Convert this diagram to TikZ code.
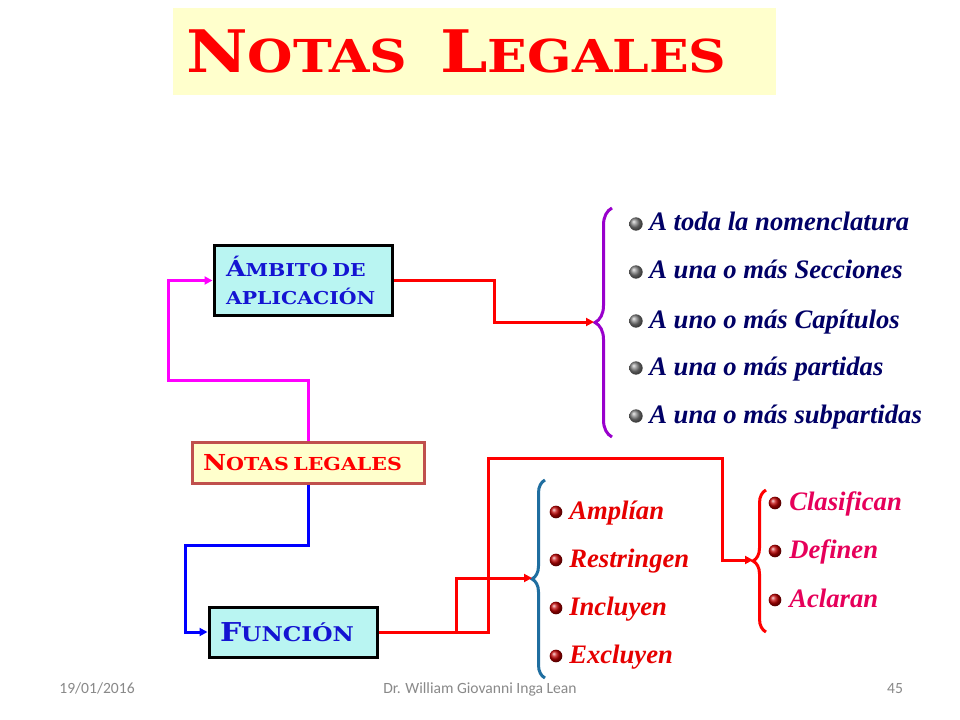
\documentclass[tikz,border=0pt]{standalone}
\usepackage{fontspec}
\setmainfont{Liberation Serif}
\newfontfamily\copperfont[FakeStretch=1.15]{DejaVu Serif}
\newfontfamily\footfont{Carlito}
\usetikzlibrary{positioning,arrows.meta,decorations.pathreplacing}

\definecolor{titlefill}{RGB}{255,255,204}
\definecolor{cyanfill}{RGB}{185,245,242}
\definecolor{boxblue}{RGB}{20,20,210}
\definecolor{notasborder}{RGB}{192,80,77}
\definecolor{wiremagenta}{RGB}{255,0,255}
\definecolor{wirered}{RGB}{255,0,0}
\definecolor{wireblue}{RGB}{0,0,255}
\definecolor{bracepurple}{RGB}{153,0,204}
\definecolor{braceteal}{RGB}{31,110,160}
\definecolor{navytext}{RGB}{0,0,102}
\definecolor{itemred}{RGB}{230,0,0}
\definecolor{itemcrimson}{RGB}{230,0,90}
\definecolor{footgray}{RGB}{137,137,137}

% big first letter, smaller capitals after it
\newcommand{\capsmall}[4]{{\fontsize{#1}{#1}\selectfont #3}{\fontsize{#2}{#2}\selectfont #4}}

\begin{document}
\begin{tikzpicture}
[x=0.75pt,y=-0.75pt,
  titlebox/.style={fill=titlefill,inner xsep=9.75pt,text width=432.75pt,
    minimum height=65.25pt,align=left,text=wirered,font=\copperfont\bfseries},%
  bluebox/.style={draw=black,line width=2.25pt,fill=cyanfill,text=boxblue,
    align=left,font=\copperfont\bfseries},%
  notasbox/.style={draw=notasborder,line width=2.25pt,fill=titlefill,
    text=wirered,align=left,font=\copperfont\bfseries},%
  wire/.style={line width=2.25pt,-{Triangle[length=6pt,width=6pt]}},%
  bracedecorate/.style={decorate,decoration={brace,amplitude=#1},line width=2.25pt},%
  itemtext/.style={anchor=base west,inner sep=0pt,
    font=\fontsize{20pt}{24pt}\selectfont\bfseries\itshape},%
  ballbullet/.style={circle,inner sep=0pt,minimum size=#1,shade},%
  footer/.style={anchor=base,text=footgray,font=\footfont\fontsize{11.7pt}{14pt}\selectfont}]
\useasboundingbox (0,0) rectangle (960,720);
\fill[white] (0,0) rectangle (960,720);
%% title
\node[titlebox] (title) at (474.5,51.5)
  {\capsmall{44pt}{34pt}{N}{OTAS}\hspace{25pt}\capsmall{44pt}{34pt}{L}{EGALES}};
%% boxes
\node[bluebox,text width=115.5pt,inner xsep=9pt,minimum height=51.75pt] (ambito)
  at (303,280.5)
  {\capsmall{16.5pt}{13.3pt}{Á}{MBITO DE}\\[7pt]{\fontsize{13.3pt}{13.3pt}\selectfont APLICACIÓN}};
\node[notasbox,text width=157.5pt,inner xsep=8.25pt,minimum height=30.75pt] (notas)
  at (308,462.5) {\capsmall{16.5pt}{13.4pt}{N}{OTAS LEGALES}};
\node[bluebox,text width=109.5pt,inner xsep=8.25pt,minimum height=37.5pt] (funcion)
  at (293,632) {\capsmall{19.5pt}{15.2pt}{F}{UNCIÓN}};
%% braces
\coordinate (braceA-top) at (612,208);
\coordinate (braceA-bot) at (612,437);
\coordinate (tipA) at (594,322);
\draw[bracedecorate=12.75pt,draw=bracepurple] (braceA-bot) -- (braceA-top);
\coordinate (braceB-top) at (545,480);
\coordinate (braceB-bot) at (545,678);
\coordinate (tipB) at (532,578);
\draw[bracedecorate=9.75pt,draw=braceteal] (braceB-bot) -- (braceB-top);
\coordinate (braceC-top) at (766,490);
\coordinate (braceC-bot) at (766,632);
\coordinate (tipC) at (753,560);
\draw[bracedecorate=9.75pt,draw=wirered] (braceC-bot) -- (braceC-top);
%% items
\foreach \name/\y/\txt in {amb1/224/A toda la nomenclatura,
  amb2/272/A una o más Secciones, amb3/321/A uno o más Capítulos,
  amb4/368/A una o más partidas, amb5/416/A una o más subpartidas}
{
  \node[ballbullet=10pt,ball color=gray] (\name-ball) at (636,\y) {};
  \node[itemtext,text=navytext] (\name) at (649,\y+7) {\txt};
}
\foreach \name/\y/\txt in {fun1/512/Amplían, fun2/560/Restringen,
  fun3/608/Incluyen, fun4/656/Excluyen}
{
  \node[ballbullet=9.5pt,ball color=red!75!black] (\name-ball) at (556,\y) {};
  \node[itemtext,text=itemred] (\name) at (569,\y+7) {\txt};
}
\foreach \name/\y/\txt in {cla1/503/Clasifican, cla2/551/Definen, cla3/600/Aclaran}
{
  \node[ballbullet=9.5pt,ball color=red!75!black] (\name-ball) at (775,\y) {};
  \node[itemtext,text=itemcrimson] (\name) at (789,\y+7) {\txt};
}
%% connectors
\coordinate (mgbend) at (168,380);
\coordinate (blbend) at (185,545);
\coordinate (rdtop) at (488,458);
\coordinate (rdright) at (722,560);
\draw[wire,draw=wiremagenta] (notas.north) |- (mgbend) |- (ambito.west);
\draw[wire,draw=wirered] (ambito.east) -- ++(101,0) |- (tipA);
\draw[wire,draw=wireblue] (notas.south) |- (blbend) |- (funcion.west);
\draw[wire,draw=wirered] (funcion.east) -- ++(78,0) |- (tipB);
\draw[wire,draw=wirered] (funcion.east) -| (rdtop) -| (rdright) -- (tipC);
%% footer
\node[footer] (date) at (97,693) {19/01/2016};
\node[footer] (author) at (480,693) {Dr. William Giovanni Inga Lean};
\node[footer] (page) at (895,693) {45};
\end{tikzpicture}
\end{document}
